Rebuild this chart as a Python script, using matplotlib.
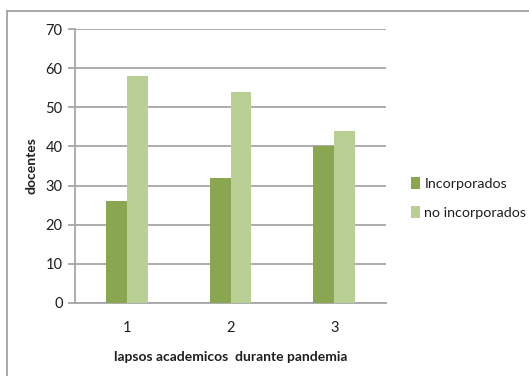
import numpy as np
import matplotlib
matplotlib.use("Agg")
import matplotlib.pyplot as plt
from matplotlib.lines import Line2D
from matplotlib.patches import Patch

# docentes por lapso academico
lapsos = ["1", "2", "3"]
incorporados = [26, 32, 40]
no_incorporados = [58, 54, 44]
series_names = ["Incorporados", "no incorporados"]

DARK = "#8BA650"
LIGHT = "#B9CF94"
GRID = "#A6A6A6"
TEXT = "#1E1E1E"

plt.rcParams["font.family"] = ["Lato", "DejaVu Sans"]

fig = plt.figure(figsize=(5.29, 3.76), dpi=100)
ax = fig.add_axes([0.1418, 0.195, 0.5879, 0.727])

x = np.arange(len(lapsos))
w = 0.2
ax.bar(x - w / 2, incorporados, width=w, color=DARK, zorder=3)
ax.bar(x + w / 2, no_incorporados, width=w, color=LIGHT, zorder=3)

ax.set_xlim(-0.5, len(lapsos) - 0.5)
ax.set_ylim(0, 70)
ax.set_yticks(range(0, 71, 10))
ax.set_xticks(x)
ax.set_xticklabels(lapsos)
ax.yaxis.grid(True, color=GRID, linewidth=1.3, zorder=0)
ax.set_axisbelow(True)

for side in ["top", "right"]:
    ax.spines[side].set_visible(False)
ax.spines["left"].set_color(GRID)
ax.spines["left"].set_linewidth(1.3)
ax.spines["bottom"].set_color(GRID)
ax.spines["bottom"].set_linewidth(1.3)

ax.tick_params(axis="y", length=5, width=1.3, color=GRID, labelsize=10.5,
               labelcolor=TEXT, pad=4)
ax.tick_params(axis="x", length=0, labelsize=10.5, labelcolor=TEXT, pad=13)

ax.set_xlabel("lapsos academicos  durante pandemia", fontsize=10,
              fontweight="bold", color=TEXT, labelpad=12)
ax.set_ylabel("docentes", fontsize=10, fontweight="bold", color=TEXT,
              labelpad=6)

handles = [Patch(facecolor=DARK, edgecolor="none"),
           Patch(facecolor=LIGHT, edgecolor="none")]
fig.legend(handles, series_names, loc="center left",
           bbox_to_anchor=(0.752, 0.473), frameon=False, fontsize=10.3,
           handlelength=0.65, handleheight=0.9, handletextpad=0.3,
           labelspacing=1.1, labelcolor=TEXT)

# outer frame of the chart area
fig.add_artist(Line2D([7 / 529, 7 / 529], [0, 1 - 11 / 376],
                      transform=fig.transFigure, color="#9A9A9A", lw=1.2))
fig.add_artist(Line2D([7 / 529, 1], [1 - 11 / 376, 1 - 11 / 376],
                      transform=fig.transFigure, color="#9A9A9A", lw=1.2))

fig.savefig("out.png", dpi=100)
